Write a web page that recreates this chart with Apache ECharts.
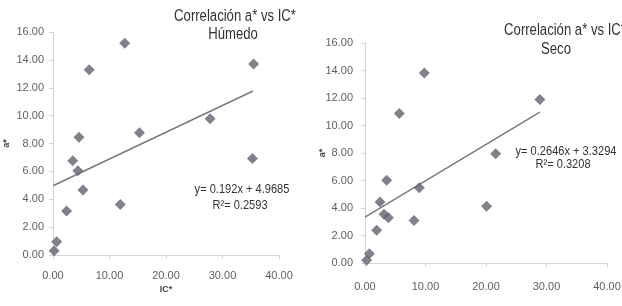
<!DOCTYPE html>
<html><head><meta charset="utf-8">
<script src="https://cdn.jsdelivr.net/npm/echarts@6/dist/echarts.min.js"></script>
<style>html,body{margin:0;padding:0;background:#fff}#c{width:622px;height:306px}</style>
</head><body><div id="c"></div>
<script>
// Left chart: Húmedo
const humedoIC = [12.7, 6.4, 35.5, 4.6, 15.3, 27.8, 35.3, 3.5, 4.4, 5.3, 11.9, 2.4, 0.65, 0.2];
const humedoA  = [15.19, 13.3, 13.7, 8.45, 8.77, 9.78, 6.93, 6.77, 6.05, 4.66, 3.63, 3.16, 0.95, 0.3];
const humedoTrendIC = [0, 35.4];
const humedoTrendA  = [4.97, 11.77];
// Right chart: Seco
const secoIC = [9.8, 5.67, 28.9, 21.6, 3.58, 8.98, 2.48, 3.14, 3.86, 8.1, 20.1, 1.93, 0.72, 0.27];
const secoA  = [13.82, 10.87, 11.9, 7.95, 6.01, 5.48, 4.44, 3.54, 3.30, 3.1, 4.12, 2.38, 0.68, 0.2];
const secoTrendIC = [0, 28.9];
const secoTrendA  = [3.33, 10.98];

const pairs = (xs, ys) => xs.map((x, i) => [x, ys[i]]);
const labelFont = {fontFamily: 'Liberation Sans', fontSize: 11, color: '#5f5f5f'};
const axisLineStyle = {lineStyle: {color: '#d4d4d4', width: 1}};
function xAxis(idx) {
  return {gridIndex: idx, type: 'value', min: 0, max: 40, interval: 10,
    name: 'IC*', nameLocation: 'middle', nameGap: idx === 0 ? 30 : 42, nameMoveOverlap: false,
    nameTextStyle: {fontFamily: 'Liberation Sans', fontSize: 9, fontWeight: 'bold', color: '#444'},
    axisLine: axisLineStyle, axisTick: {show: true, length: 4, lineStyle: {color: '#d4d4d4'}},
    splitLine: {show: false},
    axisLabel: Object.assign({formatter: v => v.toFixed(2), margin: idx === 0 ? 15 : 18}, labelFont)};
}
function yAxis(idx) {
  return {gridIndex: idx, type: 'value', min: 0, max: 16, interval: 2,
    name: 'a*', nameLocation: 'middle', nameGap: idx === 0 ? 42 : 38, nameRotate: 90, nameMoveOverlap: false,
    nameTextStyle: {fontFamily: 'Liberation Sans', fontSize: 9, fontWeight: 'bold', color: '#444'},
    axisLine: {show: true, lineStyle: {color: '#d4d4d4', width: 1}},
    axisTick: {show: true, length: 4, lineStyle: {color: '#d4d4d4'}},
    splitLine: {show: false},
    axisLabel: Object.assign({formatter: v => v.toFixed(2), margin: idx === 0 ? 9 : 12}, labelFont)};
}
const marker = {symbol: 'diamond', symbolSize: 11, itemStyle: {color: '#62626e'}};
const chart = echarts.init(document.getElementById('c'));
const titleFont = "16px 'Liberation Sans', sans-serif";
const eqFont = "13.5px 'Liberation Sans', sans-serif";
function txt(x, y, s, font) {
  return {type: 'text', x: x, y: y, scaleX: 0.82,
    style: {text: s, font: font, fill: '#333', textAlign: 'center', textVerticalAlign: 'middle'}};
}
chart.setOption({
  animation: false,
  grid: [
    {left: 53, top: 32, width: 226, height: 223, outerBoundsMode: 'none'},
    {left: 365, top: 43, width: 242, height: 220, outerBoundsMode: 'none'}
  ],
  xAxis: [xAxis(0), xAxis(1)],
  yAxis: [yAxis(0), yAxis(1)],
  series: [
    Object.assign({type: 'scatter', xAxisIndex: 0, yAxisIndex: 0, data: pairs(humedoIC, humedoA), z: 3}, marker),
    {type: 'line', xAxisIndex: 0, yAxisIndex: 0, data: pairs(humedoTrendIC, humedoTrendA), symbol: 'none',
     lineStyle: {color: '#7a7a7a', width: 1.5}, z: 2},
    Object.assign({type: 'scatter', xAxisIndex: 1, yAxisIndex: 1, data: pairs(secoIC, secoA), z: 3}, marker),
    {type: 'line', xAxisIndex: 1, yAxisIndex: 1, data: pairs(secoTrendIC, secoTrendA), symbol: 'none',
     lineStyle: {color: '#7a7a7a', width: 1.5}, z: 2}
  ],
  graphic: [
    txt(235, 17, 'Correlación a* vs IC*', titleFont),
    txt(233, 35, 'Húmedo', titleFont),
    txt(242, 189, 'y= 0.192x + 4.9685', eqFont),
    txt(240, 205, 'R²= 0.2593', eqFont),
    txt(565, 31, 'Correlación a* vs IC*', titleFont),
    txt(556, 50, 'Seco', titleFont),
    txt(566, 151, 'y= 0.2646x + 3.3294', eqFont),
    txt(563, 164, 'R²= 0.3208', eqFont)
  ]
});
</script></body></html>
